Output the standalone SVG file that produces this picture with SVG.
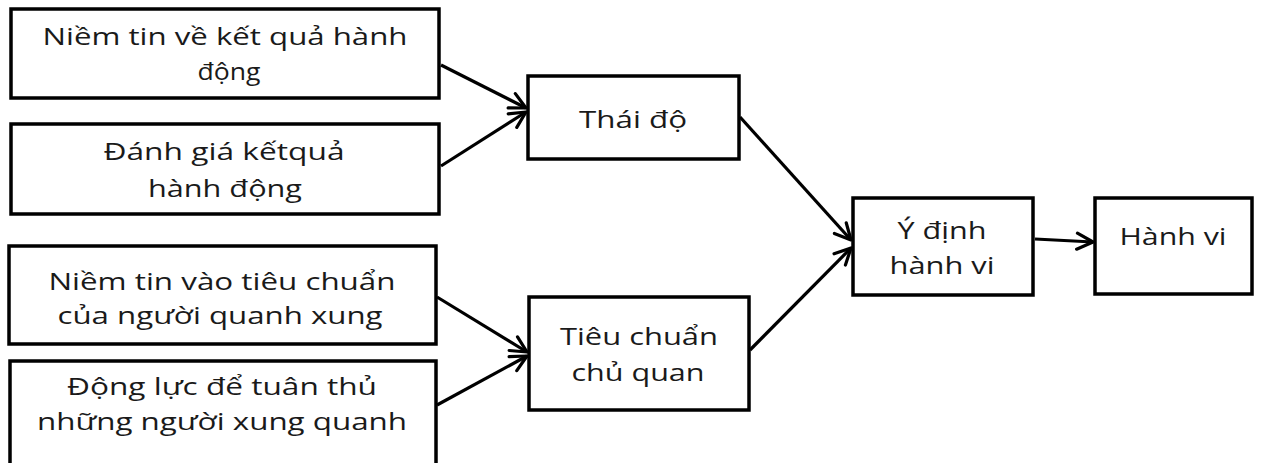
<svg xmlns="http://www.w3.org/2000/svg" width="1263" height="463" viewBox="0 0 1263 463">
<style>
.box{fill:#fff;stroke:#000;stroke-width:3.5}
.t{font-family:"Open Sans","Noto Sans","Liberation Sans",sans-serif;font-size:24px;fill:#1a1a1a;text-anchor:middle}
.c{stroke:#000;stroke-width:3.2;fill:none;marker-end:url(#ah)}
</style>
<defs>
<marker id="ah" viewBox="0 0 20 20" refX="18" refY="10" markerWidth="20" markerHeight="20" markerUnits="userSpaceOnUse" orient="auto">
<path d="M2,2 L18,10 L2,18" fill="none" stroke="#000" stroke-width="3.2" stroke-linecap="round" stroke-linejoin="round"/>
</marker>
</defs>
<rect width="1263" height="463" fill="#fff"/>
<g id="n1">
<rect class="box" x="11" y="9" width="428" height="89"/>
<text class="t" x="225" y="45" textLength="365" lengthAdjust="spacingAndGlyphs">Niềm tin về kết quả hành</text>
<text class="t" x="229" y="80" textLength="63" lengthAdjust="spacingAndGlyphs">động</text>
</g>
<g id="n2">
<rect class="box" x="11" y="124" width="428" height="90"/>
<text class="t" x="224" y="160" textLength="241" lengthAdjust="spacingAndGlyphs">Đánh giá kếtquả</text>
<text class="t" x="225" y="197" textLength="154" lengthAdjust="spacingAndGlyphs">hành động</text>
</g>
<g id="n3">
<rect class="box" x="9" y="246" width="427" height="98"/>
<text class="t" x="222" y="290" textLength="347" lengthAdjust="spacingAndGlyphs">Niềm tin vào tiêu chuẩn</text>
<text class="t" x="220" y="324" textLength="325" lengthAdjust="spacingAndGlyphs">của người quanh xung</text>
</g>
<g id="n4">
<rect class="box" x="10" y="361" width="426" height="120"/>
<text class="t" x="222" y="395" textLength="310" lengthAdjust="spacingAndGlyphs">Động lực để tuân thủ</text>
<text class="t" x="222" y="430" textLength="370" lengthAdjust="spacingAndGlyphs">những người xung quanh</text>
</g>
<g id="n5">
<rect class="box" x="528" y="76" width="211" height="83"/>
<text class="t" x="633" y="128" textLength="108" lengthAdjust="spacingAndGlyphs">Thái độ</text>
</g>
<g id="n6">
<rect class="box" x="529" y="297" width="220" height="113"/>
<text class="t" x="639" y="345" textLength="158" lengthAdjust="spacingAndGlyphs">Tiêu chuẩn</text>
<text class="t" x="638" y="381" textLength="133" lengthAdjust="spacingAndGlyphs">chủ quan</text>
</g>
<g id="n7">
<rect class="box" x="853" y="198" width="180" height="97"/>
<text class="t" x="942" y="239" textLength="89" lengthAdjust="spacingAndGlyphs">Ý định</text>
<text class="t" x="942" y="274" textLength="105" lengthAdjust="spacingAndGlyphs">hành vi</text>
</g>
<g id="n8">
<rect class="box" x="1095" y="198" width="157" height="96"/>
<text class="t" x="1173" y="245" textLength="107" lengthAdjust="spacingAndGlyphs">Hành vi</text>
</g>
<g id="connectors">
<line class="c" x1="441" y1="65" x2="526" y2="108"/>
<line class="c" x1="441" y1="166" x2="526" y2="112"/>
<line class="c" x1="437" y1="297" x2="527" y2="352"/>
<line class="c" x1="437" y1="405" x2="527" y2="356"/>
<line class="c" x1="740" y1="117" x2="851" y2="240"/>
<line class="c" x1="750" y1="350" x2="851" y2="248"/>
<line class="c" x1="1035" y1="239" x2="1093" y2="242"/>
</g>
</svg>
